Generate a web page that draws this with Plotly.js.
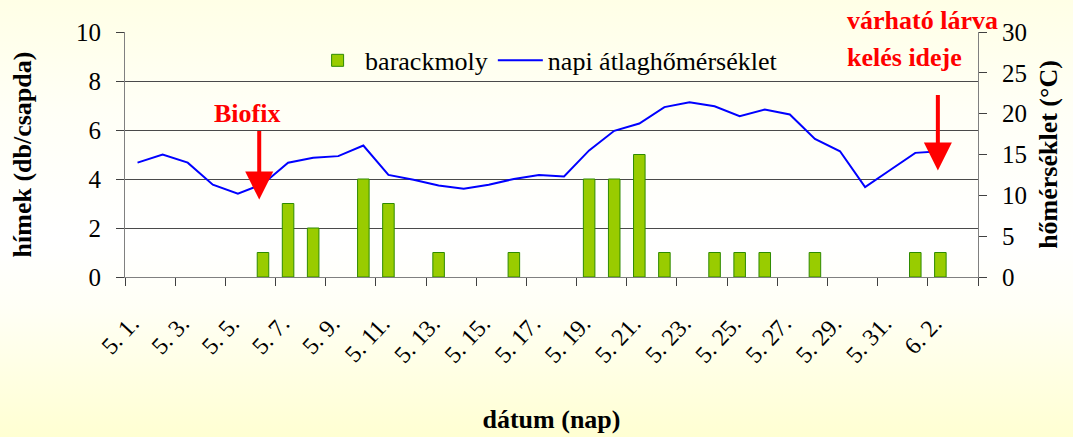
<!DOCTYPE html>
<html>
<head>
<meta charset="utf-8">
<script src="https://cdn.plot.ly/plotly-3.0.1.min.js"></script>
<style>
  html, body { margin: 0; padding: 0; }
  body { width: 1073px; height: 437px; overflow: hidden;
         background: linear-gradient(to bottom, #FFFFE6 0%, #FFFFF6 25%, #FFFFFF 55%, #FFFFF6 70%, #FFFFD2 100%); }
  #chart { width: 1073px; height: 437px; }
</style>
</head>
<body>
<div id="chart"></div>
<script>
// ---- data ----
const categories = ["5. 1.","5. 2.","5. 3.","5. 4.","5. 5.","5. 6.","5. 7.","5. 8.","5. 9.","5. 10.",
  "5. 11.","5. 12.","5. 13.","5. 14.","5. 15.","5. 16.","5. 17.","5. 18.","5. 19.","5. 20.",
  "5. 21.","5. 22.","5. 23.","5. 24.","5. 25.","5. 26.","5. 27.","5. 28.","5. 29.","5. 30.",
  "5. 31.","6. 1.","6. 2.","6. 3."];
const barackmoly = [null,null,null,null,null,1,3,2,null,4,
  3,null,1,null,null,1,null,null,4,4,
  5,1,null,1,1,1,null,1,null,null,
  null,1,1,null];
const homerseklet = [14.0,15.0,14.0,11.3,10.2,11.4,14.0,14.6,14.8,16.1,
  12.5,11.9,11.2,10.8,11.3,12.0,12.5,12.3,15.5,17.9,
  18.8,20.8,21.4,20.9,19.7,20.5,19.9,16.9,15.4,11.0,
  13.1,15.2,15.4,null];
const seriesNames = ["barackmoly", "napi átlaghőmérséklet"];
const axisTitles = {y: "hímek (db/csapda)", y2: "hőmérséklet (°C)", x: "dátum (nap)"};

const FONT = "Liberation Serif";

const traces = [
  { type: "bar", name: seriesNames[0], x: categories, y: barackmoly,
    marker: { color: "#99CC00", line: { color: "#2E8B00", width: 1 } },
    yaxis: "y", xaxis: "x" },
  { type: "scatter", mode: "lines", name: seriesNames[1], x: categories, y: homerseklet,
    line: { color: "#0000FF", width: 2 }, yaxis: "y2", xaxis: "x" }
];

const TICKC = "#404040";
const layout = {
  width: 1073, height: 437,
  margin: { l: 125, r: 95, t: 32, b: 160 },
  paper_bgcolor: "rgba(0,0,0,0)", plot_bgcolor: "rgba(0,0,0,0)",
  font: { family: FONT, size: 25, color: "#000" },
  bargap: 0.54,
  showlegend: true,
  legend: { orientation: "h", x: 0.217, xanchor: "left", y: 0.884, yanchor: "middle",
            bgcolor: "rgba(0,0,0,0)", font: { family: FONT, size: 26, color: "#000" }, itemwidth: 45 },
  xaxis: { type: "category", categoryorder: "array", categoryarray: categories,
           tickmode: "linear", tick0: 0, dtick: 2, tickangle: -47, tickson: "boundaries",
           ticks: "outside", ticklen: 8, tickcolor: TICKC, ticklabelstandoff: 22, ticklabelshift: -6,
           tickfont: { family: FONT, size: 24, color: "#000" },
           showline: true, linecolor: "#808080", linewidth: 1, showgrid: false,
           title: { text: "<b>" + axisTitles.x + "</b>", font: { family: FONT, size: 26, color: "#000" }, standoff: 42 } },
  yaxis: { range: [0, 10], dtick: 2, showline: true, linecolor: "#808080", linewidth: 1,
           showgrid: true, gridcolor: "#4a4a4a", gridwidth: 1, zeroline: false,
           ticks: "outside", ticklen: 8, tickcolor: TICKC, ticklabelstandoff: 10,
           tickfont: { family: FONT, size: 25, color: "#000" },
           title: { text: "<b>" + axisTitles.y + "</b>", font: { family: FONT, size: 26, color: "#000" }, standoff: 36 } },
  yaxis2: { overlaying: "y", side: "right", range: [0, 30], dtick: 5, showgrid: false, zeroline: false,
            showline: true, linecolor: "#808080", linewidth: 1,
            ticks: "outside", ticklen: 8, tickcolor: TICKC, ticklabelstandoff: 10,
            tickfont: { family: FONT, size: 25, color: "#000" },
            title: { text: "<b>" + axisTitles.y2 + "</b>", font: { family: FONT, size: 26, color: "#000" }, standoff: 12 } },
  annotations: [
    { xref: "paper", yref: "paper", x: 0.1427, y: 0.668, text: "<b>Biofix</b>", showarrow: false,
      xanchor: "center", yanchor: "middle", font: { family: FONT, size: 26, color: "#FF0000" } },
    { xref: "x", yref: "y", x: 4.85, y: 3.16, ax: 0, ay: -70, text: "", showarrow: true,
      arrowhead: 2, arrowsize: 1.4, arrowwidth: 4, arrowcolor: "#FF0000" },
    { xref: "paper", yref: "paper", x: 0.844, y: 1.048, text: "<b>várható lárva</b>", showarrow: false,
      xanchor: "left", yanchor: "middle", font: { family: FONT, size: 26, color: "#FF0000" } },
    { xref: "paper", yref: "paper", x: 0.844, y: 0.897, text: "<b>kelés ideje</b>", showarrow: false,
      xanchor: "left", yanchor: "middle", font: { family: FONT, size: 26, color: "#FF0000" } },
    { xref: "x", yref: "y", x: 31.9, y: 4.35, ax: 0, ay: -77, text: "", showarrow: true,
      arrowhead: 2, arrowsize: 1.4, arrowwidth: 4, arrowcolor: "#FF0000" }
  ]
};

Plotly.newPlot("chart", traces, layout, { displayModeBar: false, staticPlot: true });
</script>
</body>
</html>
